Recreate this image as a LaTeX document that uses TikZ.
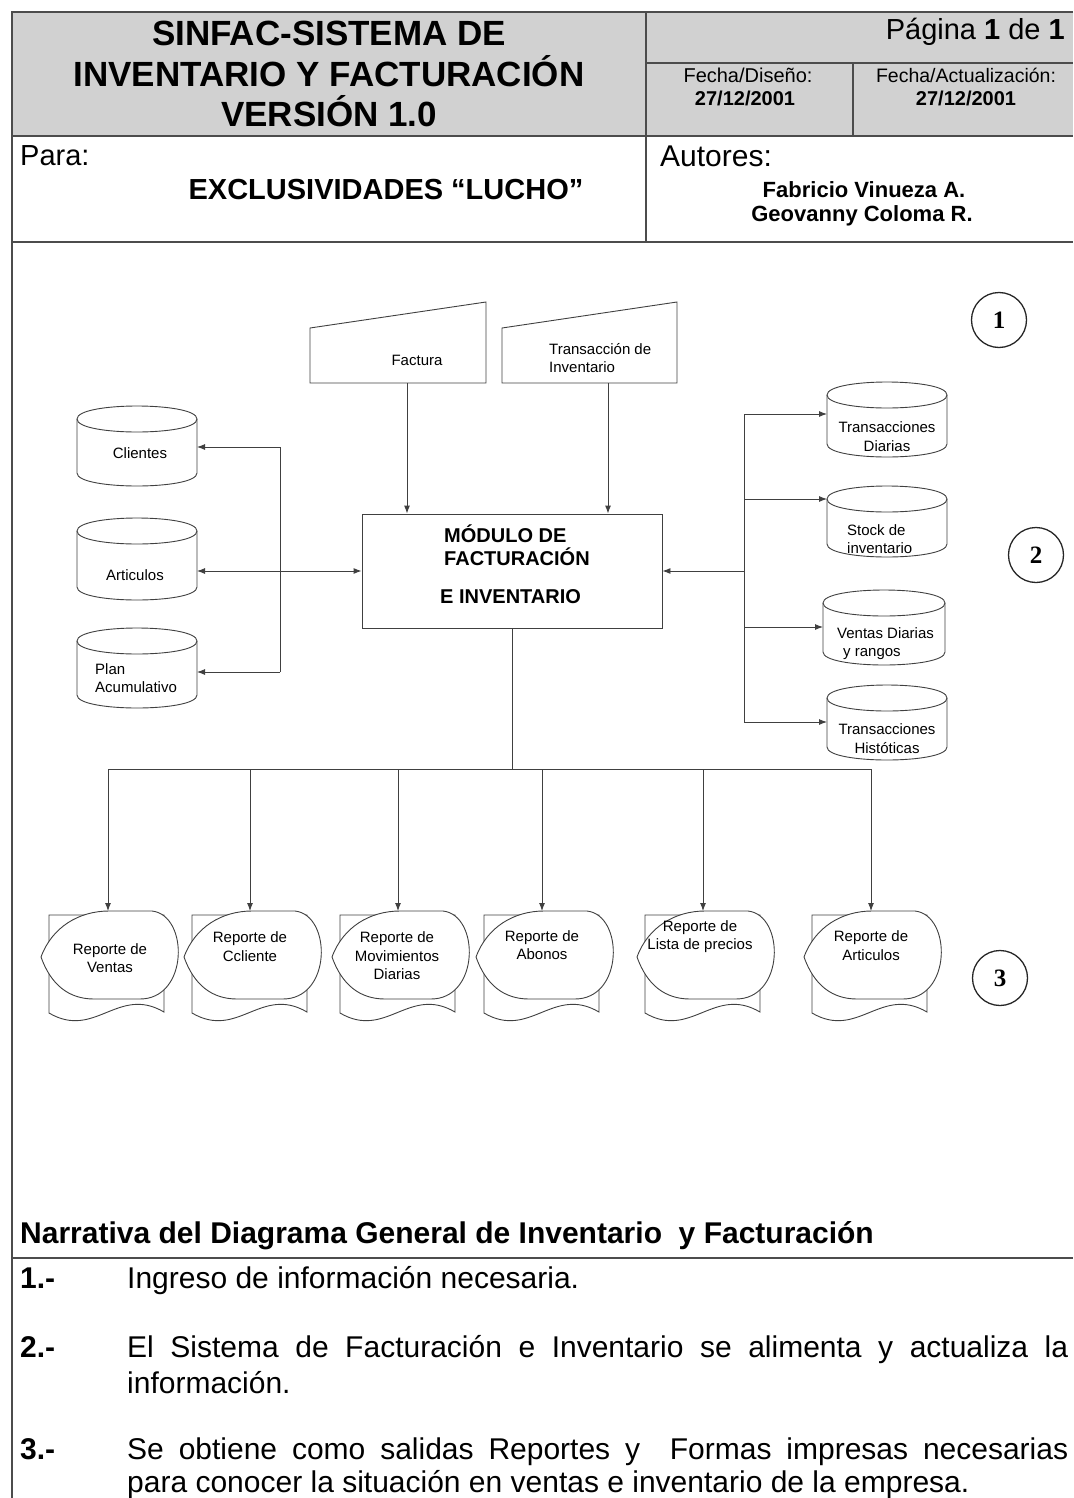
\documentclass[tikz,border=0pt]{standalone}
\usepackage{fontspec}
\setmainfont{Liberation Sans}
\newfontfamily\serifnum{Liberation Serif}
\usetikzlibrary{arrows.meta}
\newcommand\fs[1]{\fontsize{#1}{#1}\selectfont}
\newcommand\mycyl[4]{%
 \draw[ln, fill=white] (#1,{#2+13}) .. controls (#1,{#2-4.33}) and (#3,{#2-4.33}) .. (#3,{#2+13}) -- (#3,{#4-13}) .. controls (#3,{#4+4.33}) and (#1,{#4+4.33}) .. (#1,{#4-13}) -- cycle;
 \draw[ln] (#1,{#2+13}) .. controls (#1,{#2+30.33}) and (#3,{#2+30.33}) .. (#3,{#2+13});}
\newcommand\repdoc[1]{%
 \draw[ln, fill=white] (#1,915) -- ({#1+115},915) -- ({#1+115},1012) .. controls ({#1+69},985) and ({#1+46},1040) .. (#1,1013) -- cycle;
 \draw[ln, fill=white] ({#1-8},957) .. controls ({#1+3},927) and ({#1+30},911) .. ({#1+60},911) -- ({#1+103},911) .. controls ({#1+140},915) and ({#1+140},1000) .. ({#1+90},999) -- ({#1+45},999) .. controls ({#1+20},999) and ({#1+2},985) .. ({#1-8},957) -- cycle;}
\begin{document}
\begin{tikzpicture}[x=1pt,y=-1pt,
  hdr/.style={line width=1.6pt, draw=black!70},
  ln/.style={line width=0.9pt, draw=black!75},
  arr/.style={ln, -{Latex[length=8pt,width=6pt]}},
  arrb/.style={ln, {Latex[length=8pt,width=6pt]}-{Latex[length=8pt,width=6pt]}},
  anch/.style={inner sep=0pt, outer sep=0pt, minimum height=0pt},
  lbl/.style={font=\fontsize{15}{18.5}\selectfont, inner sep=0pt},
  numc/.style={circle, draw=black!85, line width=1.3pt, minimum size=55pt, inner sep=0pt, font=\serifnum\bfseries\fs{25}},
  body/.style={anchor=base west, inner sep=0pt, font=\fs{30}},
  bnum/.style={anchor=base west, inner sep=0pt, font=\bfseries\fs{30}}]
\useasboundingbox (0,0) rectangle (1073,1498);
% ---------- header ----------
\fill[black!18] (12,12) rectangle (1073,136);
\draw[hdr] (1073,12) -- (12,12) -- (12,1498);
\draw[hdr] (12,136) -- (1073,136);
\draw[hdr] (12,242) -- (1073,242);
\draw[hdr] (646,12) -- (646,242);
\draw[hdr] (646,63) -- (1073,63);
\draw[hdr] (853,63) -- (853,136);
\node[anchor=base, inner sep=0pt, font=\bfseries\fs{35}] (h1) at (329,46) {SINFAC-SISTEMA DE};
\node[anchor=base, inner sep=0pt, font=\bfseries\fs{35}] (h2) at (329,87) {INVENTARIO Y FACTURACIÓN};
\node[anchor=base, inner sep=0pt, font=\bfseries\fs{35}] (h3) at (329,127) {VERSIÓN 1.0};
\node[anchor=base east, inner sep=0pt, font=\fs{29}] (pag) at (1065,40) {Página \textbf{1} de \textbf{1}};
\node[anchor=base, inner sep=0pt, font=\fs{20}] (fd) at (748,83) {Fecha/Diseño:};
\node[anchor=base, inner sep=0pt, font=\bfseries\fs{20}] (fdv) at (745,106) {27/12/2001};
\node[anchor=base, inner sep=0pt, font=\fs{19.5}] (fa) at (966,83) {Fecha/Actualización:};
\node[anchor=base, inner sep=0pt, font=\bfseries\fs{20}] (fav) at (966,106) {27/12/2001};
\node[anchor=base west, inner sep=0pt, font=\fs{29}] (para) at (20,166) {Para:};
\node[anchor=base, inner sep=0pt, font=\bfseries\fs{29}] (cli0) at (386,200) {EXCLUSIVIDADES “LUCHO”};
\node[anchor=base west, inner sep=0pt, font=\fs{30}] (aut) at (660,167) {Autores:};
\node[anchor=base, inner sep=0pt, font=\bfseries\fs{22}] (a1) at (864,197) {Fabricio Vinueza A.};
\node[anchor=base, inner sep=0pt, font=\bfseries\fs{22}] (a2) at (862,222) {Geovanny Coloma R.};
% ---------- inputs ----------
\node[anch, minimum width=176pt, minimum height=81pt] (fac) at (398,342.5) {};
\draw[ln] (fac.south west) -- ([yshift=-26pt]fac.north west) -- (fac.north east) -- (fac.south east) -- cycle;
\node[lbl] (factxt) at (417,360) {Factura};
\node[anch, minimum width=175pt, minimum height=81pt] (tra) at (589.5,342.5) {};
\draw[ln] (tra.south west) -- ([yshift=-26pt]tra.north west) -- (tra.north east) -- (tra.south east) -- cycle;
\node[lbl, anchor=west, align=left] (tratxt) at (549,358) {Transacción de\\Inventario};
% ---------- module ----------
\node[ln, draw, minimum width=300pt, minimum height=114pt, inner sep=0pt] (mod) at (512,571) {};
\node[anchor=base west, inner sep=0pt, font=\bfseries\fs{20}] (m1) at (444,542) {MÓDULO DE};
\node[anchor=base west, inner sep=0pt, font=\bfseries\fs{20}] (m2) at (444,565) {FACTURACIÓN};
\node[anchor=base west, inner sep=0pt, font=\bfseries\fs{20}] (m3) at (440,603) {E INVENTARIO};
\draw[arr] ([xshift=9pt]fac.south) -- ([xshift=9pt]fac.south |- mod.north);
\draw[arr] ([xshift=18.5pt]tra.south) -- ([xshift=18.5pt]tra.south |- mod.north);
% ---------- left stores ----------
\mycyl{77}{406}{197}{486}
\mycyl{77}{518}{197}{600}
\mycyl{77}{628}{197}{708}
\node[anch, minimum width=120pt] (cli) at (137,447) {};
\node[anch, minimum width=120pt] (art) at (137,571) {};
\node[anch, minimum width=120pt] (plan) at (137,672) {};
\node[lbl] (clitxt) at (140,453) {Clientes};
\node[lbl] (arttxt) at (135,575) {Articulos};
\node[lbl, anchor=west, align=left] (plantxt) at (95,678) {Plan\\Acumulativo};
\coordinate (lt1) at (280,447);
\coordinate (lt2) at (280,672);
\draw[ln] (lt1) -- (lt2);
\draw[arr] (lt1) -- (cli.east);
\draw[arr] (lt2) -- (plan.east);
\draw[arrb] (art.east) -- (mod.west);
% ---------- right stores ----------
\mycyl{827}{382}{947}{457}
\mycyl{827}{486}{947}{557}
\mycyl{823}{590}{945}{665}
\mycyl{827}{685}{947}{760}
\node[anch, minimum width=120pt] (td) at (887,414) {};
\node[anch, minimum width=120pt] (st) at (887,499) {};
\node[anch, minimum width=122pt] (vd) at (884,627) {};
\node[anch, minimum width=120pt] (th) at (887,722) {};
\node[lbl, align=center] (tdtxt) at (887,436.5) {Transacciones\\Diarias};
\node[lbl, anchor=west, align=left] (sttxt) at (847,539) {Stock de\\inventario};
\node[lbl, anchor=west, align=left] (vdtxt) at (837,643.5) {Ventas Diarias\\\hspace*{6pt}y rangos};
\node[lbl, align=center] (thtxt) at (887,738.5) {Transacciones\\Históticas};
\coordinate (rt1) at (744,414);
\coordinate (rt4) at (744,722);
\draw[ln] (rt1) -- (rt4);
\draw[arr] (rt1) -- (td.west);
\draw[arr] (st.west -| rt1) -- (st.west);
\draw[arr] (vd.west -| rt1) -- (vd.west);
\draw[arr] (rt4) -- (th.west);
\draw[arr] (mod.east -| rt1) -- (mod.east);
% ---------- reports ----------
\repdoc{49}
\repdoc{192}
\repdoc{340}
\repdoc{484}
\repdoc{645}
\repdoc{812}
\coordinate (d1) at (108,911);
\coordinate (d2) at (250,911);
\coordinate (d3) at (398,911);
\coordinate (d4) at (542,911);
\coordinate (d5) at (703,911);
\coordinate (d6) at (871,911);
\node[lbl, align=center] (r1) at (110,958) {Reporte de\\Ventas};
\node[lbl, align=center] (r2) at (250,946.5) {Reporte de\\Ccliente};
\node[lbl, align=center] (r3) at (397,956) {Reporte de\\Movimientos\\Diarias};
\node[lbl, align=center] (r4) at (542,945) {Reporte de\\Abonos};
\node[lbl, align=center] (r5) at (700,936.5) {Reporte de\\Lista de precios};
\node[lbl, align=center] (r6) at (871,945.5) {Reporte de\\Articulos};
\coordinate (bj) at (512,769);
\draw[ln] (mod.south) -- (bj);
\draw[ln] (d1 |- bj) -- (d6 |- bj);
\foreach \d in {d1,d2,d3,d4,d5,d6} {\draw[arr] (\d |- bj) -- (\d);}
% ---------- step circles ----------
\node[numc] (c1) at (999,320) {1};
\node[numc] (c2) at (1036,555) {2};
\node[numc] (c3) at (1000,978) {3};
% ---------- narrative ----------
\node[anchor=base west, inner sep=0pt, font=\bfseries\fs{30}] (nh) at (20,1243) {Narrativa del Diagrama General de Inventario\ \ y Facturación};
\draw[hdr] (12,1258) -- (1073,1258);
\node[bnum] (n1) at (20,1288) {1.-};
\node[body] (t1) at (127,1288) {Ingreso de información necesaria.};
\node[bnum] (n2) at (20,1357) {2.-};
\node[body] (t2a) at (127,1357) {\makebox[941pt][s]{El Sistema de Facturación e Inventario se alimenta y actualiza la}};
\node[body] (t2b) at (127,1393) {información.};
\node[bnum] (n3) at (20,1459) {3.-};
\node[body] (t3a) at (127,1459) {\makebox[941pt][s]{Se obtiene como salidas Reportes y\ \ Formas impresas necesarias}};
\node[body] (t3b) at (127,1492) {para conocer la situación en ventas e inventario de la empresa.};
\end{tikzpicture}
\end{document}
